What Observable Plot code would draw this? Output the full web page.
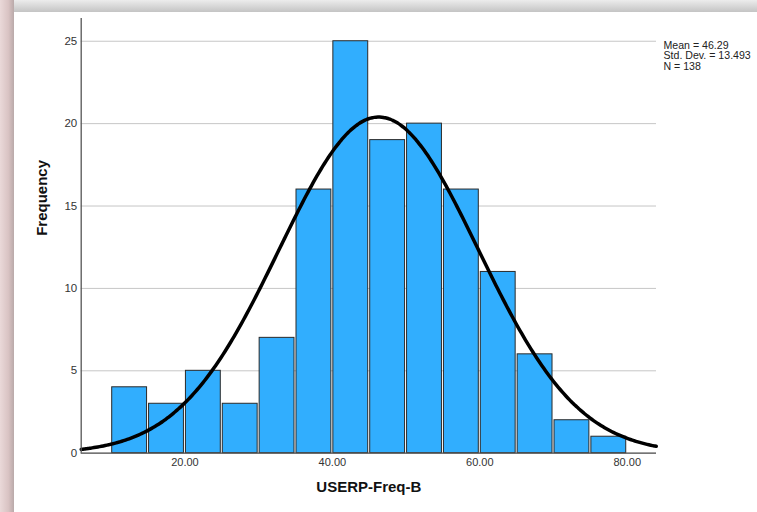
<!DOCTYPE html>
<html>
<head>
<meta charset="utf-8">
<script src="https://cdn.jsdelivr.net/npm/d3@7"></script>
<script src="https://cdn.jsdelivr.net/npm/@observablehq/plot@0.6"></script>
<style>
  html, body { margin: 0; padding: 0; background: #fff; }
  #wrap { position: relative; width: 757px; height: 512px; overflow: hidden; background: #fff; font-family: "Liberation Sans", Arial, sans-serif; }
  #topbar { position: absolute; left: 0; top: 0; width: 757px; height: 12px; background: linear-gradient(#ececec, #c4c4c4); }
  #leftbar { position: absolute; left: 0; top: 0; width: 14px; height: 512px; background: linear-gradient(90deg, #ead9d9, #d9c3c3 60%, #b9a9a9); }
  #chart { position: absolute; left: 0; top: 0; }
</style>
</head>
<body>
<div id="wrap">
  <div id="topbar"></div>
  <div id="leftbar"></div>
  <div id="chart"></div>
</div>
<script>
// Histogram bins (lower edges), width 5
const binStarts = [10, 15, 20, 25, 30, 35, 40, 45, 50, 55, 60, 65, 70, 75];
const binWidth = 5;
const frequencies = [4, 3, 5, 3, 7, 16, 25, 19, 20, 16, 11, 6, 2, 1];
// Summary statistics shown in the chart
const mean = 46.29;
const stdDev = 13.493;
const n = 138;
const xTicks = [20, 40, 60, 80];
const yTicks = [0, 5, 10, 15, 20, 25];
const xLabel = "USERP-Freq-B";
const yLabel = "Frequency";
const statsText = ["Mean = 46.29", "Std. Dev. = 13.493", "N = 138"];

const bins = binStarts.map((x0, i) => ({x1: x0, x2: x0 + binWidth, y: frequencies[i]}));

const xDomain = [5.93, 83.97];
// Fitted normal curve from the stated mean, SD and N (scaled to bin width)
const curve = d3.range(xDomain[0], xDomain[1] + 0.001, 0.25).map(x => ({
  x,
  y: n * binWidth / (stdDev * Math.sqrt(2 * Math.PI)) * Math.exp(-0.5 * ((x - mean) / stdDev) ** 2)
}));

const chart = Plot.plot({
  width: 757,
  height: 512,
  marginLeft: 80.7,
  marginRight: 101,
  marginTop: 18,
  marginBottom: 59.3,
  style: {fontFamily: "'Liberation Sans', Arial, sans-serif", background: "transparent", color: "#333"},
  x: {domain: xDomain, label: null},
  y: {domain: [0, 26.38], label: null},
  marks: [
    Plot.gridY(yTicks, {stroke: "#c6c6c6", strokeOpacity: 1, strokeWidth: 1}),
    Plot.rectY(bins, {x1: "x1", x2: "x2", y: "y", fill: "#31aefe", stroke: "#2a2a2a", strokeWidth: 1, insetLeft: 1, insetRight: 1}),
    Plot.line(curve, {x: "x", y: "y", stroke: "#000", strokeWidth: 3.5, curve: "natural"}),
    Plot.ruleX([xDomain[0]], {stroke: "#555", strokeWidth: 1.3}),
    Plot.ruleY([0], {stroke: "#555", strokeWidth: 1.3}),
    Plot.axisY(yTicks, {tickSize: 0, tickPadding: 4, fontSize: 11.5, fill: "#333", label: null}),
    Plot.axisX(xTicks, {tickSize: 0, tickPadding: 5, fontSize: 11, fill: "#333", tickFormat: d => d.toFixed(2), label: null}),
    Plot.text([yLabel], {frameAnchor: "left", dx: -39, rotate: -90, fontSize: 15, fontWeight: "bold", fill: "#111"}),
    Plot.text([xLabel], {frameAnchor: "bottom", dy: 39, fontSize: 15, fontWeight: "bold", fill: "#111"}),
    Plot.text([statsText.join("\n")], {frameAnchor: "top-right", dx: 7, dy: 22.5, textAnchor: "start", lineAnchor: "top", fontSize: 10.6, fill: "#222", lineHeight: 1.0})
  ]
});
document.getElementById("chart").appendChild(chart);
</script>
</body>
</html>
